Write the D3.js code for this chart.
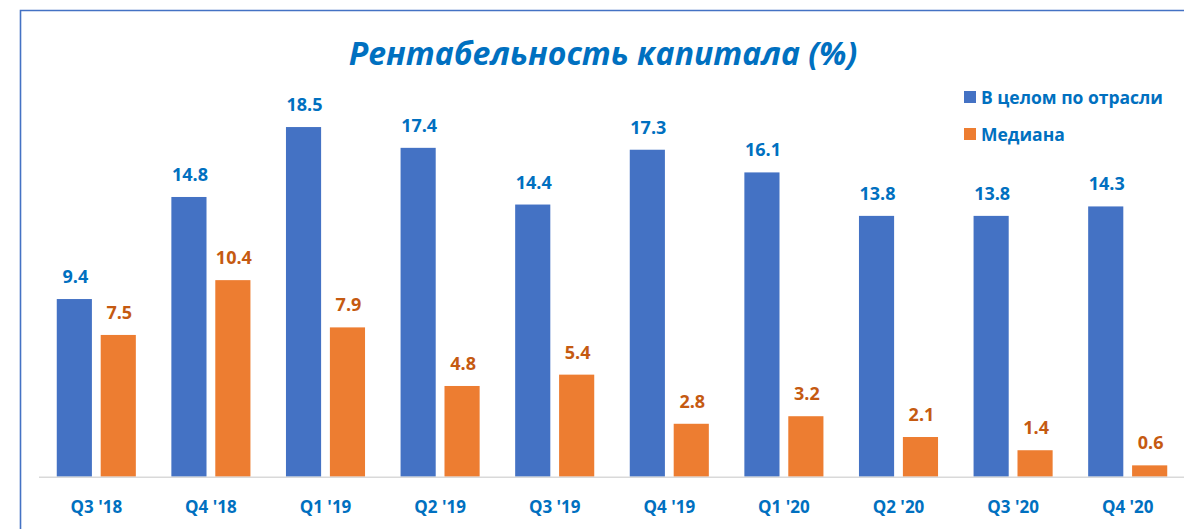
<!DOCTYPE html>
<meta charset="utf-8">
<script src="https://cdn.jsdelivr.net/npm/d3@7"></script>
<style>
  body { margin: 0; background: #fff; }
  text { font-family: "Open Sans", sans-serif; font-weight: 700; }
</style>
<body>
<div id="chart"></div>
<script>
var quarters = ["Q3 '18", "Q4 '18", "Q1 '19", "Q2 '19", "Q3 '19", "Q4 '19", "Q1 '20", "Q2 '20", "Q3 '20", "Q4 '20"]
var industry = [9.4, 14.8, 18.5, 17.4, 14.4, 17.3, 16.1, 13.8, 13.8, 14.3]
var median = [7.5, 10.4, 7.9, 4.8, 5.4, 2.8, 3.2, 2.1, 1.4, 0.6]
var seriesNames = ["В целом по отрасли", "Медиана"]

var width = 1184
var height = 529
var barColors = ["#4472C4", "#ED7D31"]
var labelColors = ["#0070C0", "#C55A11"]

var svg = d3.select("#chart").append("svg")
  .attr("width", width)
  .attr("height", height)

// outer frame
svg.append("path")
  .attr("d", "M20.5," + (height + 5) + "V10.5H" + (width + 5))
  .attr("fill", "none")
  .attr("stroke", "#4472C4")
  .attr("stroke-width", 1.6)

var x0 = d3.scaleBand()
  .domain(quarters)
  .range([39, 1185])
  .paddingInner(0.31)
  .paddingOuter(0.155)

var x1 = d3.scaleBand()
  .domain([0, 1])
  .range([0, x0.bandwidth()])
  .paddingInner(0.2)

var y = d3.scaleLinear()
  .domain([0, 20])
  .range([476.7, 98.7])

var rows = quarters.map(function(q, i) {
  return {q: q, vals: [industry[i], median[i]]}
})

var groups = svg.selectAll(".grp")
  .data(rows)
  .enter().append("g")
  .attr("transform", function(d) { return "translate(" + x0(d.q) + ",0)" })

groups.selectAll("rect")
  .data(function(d) { return d.vals })
  .enter().append("rect")
  .attr("x", function(d, i) { return x1(i) })
  .attr("y", function(d) { return y(d) })
  .attr("width", x1.bandwidth())
  .attr("height", function(d) { return y(0) - y(d) })
  .attr("fill", function(d, i) { return barColors[i] })

groups.selectAll(".lbl")
  .data(function(d) { return d.vals })
  .enter().append("text")
  .attr("x", function(d, i) { return x1(i) + x1.bandwidth() / 2 + 1 })
  .attr("y", function(d) { return y(d) - 16 })
  .attr("text-anchor", "middle")
  .style("font-size", "18px")
  .attr("fill", function(d, i) { return labelColors[i] })
  .text(function(d) { return d.toFixed(1) })

// baseline
svg.append("line")
  .attr("x1", 39).attr("x2", 1184)
  .attr("y1", y(0) + 0.5).attr("y2", y(0) + 0.5)
  .attr("stroke", "#d9d9d9")
  .attr("stroke-width", 1.5)

var xAxis = svg.append("g")
  .attr("transform", "translate(0," + y(0) + ")")
  .call(d3.axisBottom(x0).tickSize(0).tickPadding(24))
xAxis.select(".domain").remove()
xAxis.selectAll("text")
  .style("font-size", "17px")
  .style("font-family", "'Open Sans', sans-serif")
  .attr("fill", "#0070C0")

// title
svg.append("text")
  .attr("x", 603)
  .attr("y", 65)
  .attr("text-anchor", "middle")
  .style("font-size", "32px")
  .style("font-style", "italic")
  .attr("fill", "#0070C0")
  .text("Рентабельность капитала (%)")

// legend
var legend = svg.selectAll(".leg")
  .data(seriesNames)
  .enter().append("g")
  .attr("transform", function(d, i) { return "translate(964," + (91 + i * 37) + ")" })
legend.append("rect")
  .attr("width", 12).attr("height", 12)
  .attr("fill", function(d, i) { return barColors[i] })
legend.append("text")
  .attr("x", 17)
  .attr("y", 12.5)
  .style("font-size", "17.5px")
  .attr("fill", "#0070C0")
  .text(function(d) { return d })
</script>
</body>
